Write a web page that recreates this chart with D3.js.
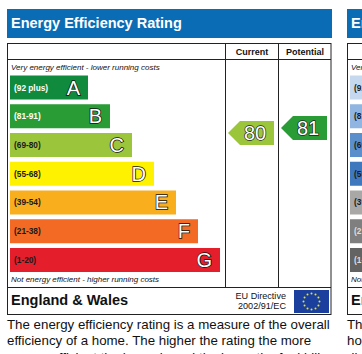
<!DOCTYPE html>
<html><head><meta charset="utf-8">
<script src="https://cdn.jsdelivr.net/npm/d3@7"></script>
<style>html,body{margin:0;padding:0;background:#fff;overflow:hidden}svg{display:block}text{font-family:"Liberation Sans",Arial,sans-serif}</style>
</head><body><svg id="c" width="362" height="354"></svg>
<script>
const bands = ["(92 plus)","(81-91)","(69-80)","(55-68)","(39-54)","(21-38)","(1-20)"];
const letters = ["A","B","C","D","E","F","G"];
const lengthRank = [1,2,3,4,5,6,7];
const energyColors = ["#108a3c","#2a9c35","#9bc63c","#fff200","#f9ae1d","#f26a24","#e41e2b"];
const impactColors = ["#c5d8ee","#8fb5e0","#5b8fcb","#3f78bd","#a9a8a6","#7f7f7f","#636363"];
const energyLabelColors = ["#fff","#fff","#1a1a1a","#1a1a1a","#1a1a1a","#1a1a1a","#1a1a1a"];
const impactLabelColors = ["#1a1a1a","#1a1a1a","#1a1a1a","#1a1a1a","#1a1a1a","#ddd","#ddd"];
const ratingValues = [80,81];
const ratingColumns = ["Current","Potential"];
const ratingColors = ["#9bc63c","#2a9c35"];
const paragraphA = ["The energy efficiency rating is a measure of the overall","efficiency of a home. The higher the rating the more","energy efficient the home is and the lower the fuel bills"];
const paragraphB = ["The","ho","di"];

const svg = d3.select("#c");
const yBand = d3.scaleBand().domain(bands).range([75.5,272]).paddingInner(0.165).paddingOuter(0);
const xLen = d3.scaleLinear().domain([1,7]).range([78,210]);
const yRating = d3.scaleLinear().domain([81,80]).range([128,133]);

function panel(ox, title, colors, labelColors, showArrows){
  const g = svg.append("g").attr("transform",`translate(${ox},0)`);
  g.append("rect").attr("x",7).attr("y",9).attr("width",325).attr("height",29).attr("fill","#0a6cb4");
  g.append("text").attr("x",11).attr("y",27.5).attr("font-size",14.5).attr("font-weight","bold").attr("fill","#fff").text(title);
  g.append("rect").attr("x",7.5).attr("y",43.5).attr("width",323.5).attr("height",271).attr("fill","#fff").attr("stroke","#222").attr("stroke-width",1);
  [[7.5,331,59.5,59.5],[7.5,331,287.5,287.5],[225.5,225.5,43.5,287.5],[278.5,278.5,43.5,287.5]].forEach(l=>
    g.append("line").attr("x1",l[0]).attr("x2",l[1]).attr("y1",l[2]).attr("y2",l[3]).attr("stroke","#222"));
  ratingColumns.forEach((c,i)=>g.append("text").attr("x",i?305:252).attr("y",55).attr("text-anchor","middle").attr("font-size",9).attr("font-weight","bold").attr("fill","#111").text(c));
  g.append("text").attr("x",11).attr("y",70).attr("font-size",8).attr("font-style","italic").attr("fill","#111").text("Very energy efficient - lower running costs");
  g.append("text").attr("x",11).attr("y",282).attr("font-size",8).attr("font-style","italic").attr("fill","#111").text("Not energy efficient - higher running costs");
  const b = g.selectAll(".bar").data(bands).join("g").attr("class","bar");
  b.append("rect").attr("x",10).attr("y",d=>yBand(d)).attr("height",yBand.bandwidth())
    .attr("width",(d,i)=>xLen(lengthRank[i])).attr("fill",(d,i)=>colors[i]);
  b.append("text").attr("x",14).attr("y",d=>yBand(d)+yBand.bandwidth()/2+3).attr("font-size",8.3).attr("font-weight","bold")
    .attr("fill",(d,i)=>labelColors[i]).text(d=>d);
  b.append("text").attr("x",(d,i)=>10+xLen(lengthRank[i])-8).attr("y",d=>yBand(d)+yBand.bandwidth()/2+7)
    .attr("text-anchor","end").attr("font-size",20).attr("fill","#fff").attr("stroke","#111").attr("stroke-width",1.5).attr("paint-order","stroke")
    .text((d,i)=>letters[i]);
  g.append("text").attr("x",11).attr("y",305).attr("font-size",14.5).attr("font-weight","bold").attr("fill","#111").text("England & Wales");
  if(showArrows){
    ratingValues.forEach((v,i)=>{
      const cy = yRating(v);
      const x = i?281:228;
      g.append("path").attr("d",d3.line()([[x,cy],[x+12,cy-12],[x+46,cy-12],[x+46,cy+12],[x+12,cy+12]])+"Z").attr("fill",ratingColors[i]);
      g.append("text").attr("x",x+27).attr("y",cy+7).attr("text-anchor","middle").attr("font-size",20).attr("fill","#fff").attr("stroke","#222").attr("stroke-width",1.4).attr("paint-order","stroke").text(v);
    });
    g.append("text").attr("x",286).attr("y",299).attr("text-anchor","end").attr("font-size",9.1).attr("fill","#111").text("EU Directive");
    g.append("text").attr("x",286).attr("y",309).attr("text-anchor","end").attr("font-size",9.1).attr("fill","#111").text("2002/91/EC");
    g.append("rect").attr("x",294).attr("y",290).attr("width",35).attr("height",23).attr("fill","#1a3f9c");
    const stars = d3.range(12);
    const a = d3.scaleLinear().domain([0,12]).range([0,2*Math.PI]);
    g.selectAll(".star").data(stars).join("circle").attr("class","star").attr("r",1)
      .attr("cx",d=>311.5+8*Math.sin(a(d))).attr("cy",d=>301.5-8*Math.cos(a(d))).attr("fill","#e6e04a");
  }
  return g;
}
panel(0,"Energy Efficiency Rating",energyColors,energyLabelColors,true);
panel(340,"Environmental Impact (CO2) Rating",impactColors,impactLabelColors,false);
[[paragraphA,7],[paragraphB,347]].forEach(p=>p[0].forEach((t,i)=>
  svg.append("text").attr("x",p[1]).attr("y",329+i*16.3).attr("font-size",13.3).attr("fill","#111").text(t)));
</script></body></html>
